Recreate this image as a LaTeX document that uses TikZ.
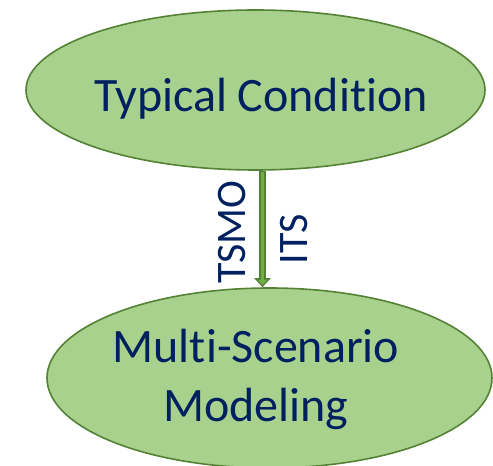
\documentclass[tikz,border=0pt]{standalone}
\usepackage{fontspec}
\setmainfont[Ligatures={NoCommon}]{Carlito}
\usetikzlibrary{shapes.geometric,arrows.meta}
\definecolor{efill}{HTML}{A9D18E}
\definecolor{edraw}{HTML}{548235}
\definecolor{arrowin}{HTML}{70AD47}
\definecolor{navy}{HTML}{002060}
\tikzset{
  bubble/.style={ellipse, fill=efill, draw=edraw, line width=1.6pt, inner sep=0pt},
  bigtext/.style={text=navy, font=\fontsize{48}{58}\selectfont, inner sep=0pt, anchor=base},
  sidelabel/.style={text=navy, font=\fontsize{42}{50}\selectfont, inner sep=0pt, anchor=base, rotate=90},
  flowout/.style={draw=edraw, line width=7pt, -{Triangle[width=16pt,length=9pt]}},
  flowin/.style={draw=arrowin, line width=3.5pt, shorten <=1.5pt, shorten >=2.2pt, -{Triangle[width=9pt,length=5pt]}}
}
\begin{document}
\begin{tikzpicture}[x=1pt,y=1pt]
\useasboundingbox (0,0) rectangle (493,466);
\node[bubble, minimum width=459, minimum height=160] (top) at (255.5,376) {};
\node[bigtext] (toptext) at (261,354) {Typical Condition};
\node[sidelabel] (tsmo) at (245,234) {TSMO};
\node[sidelabel] (its) at (307,227) {ITS};
\node[bubble, minimum width=445, minimum height=180] (bot) at (269.5,88) {};
\node[bigtext] (botline1) at (256,103) {Multi-Scenario};
\node[bigtext] (botline2) at (256,44) {Modeling};
\coordinate (mid) at (262.5,0);
\draw[flowout] (top.south -| mid) -- (bot.north -| mid);
\draw[flowin] (top.south -| mid) -- (bot.north -| mid);
\end{tikzpicture}
\end{document}
